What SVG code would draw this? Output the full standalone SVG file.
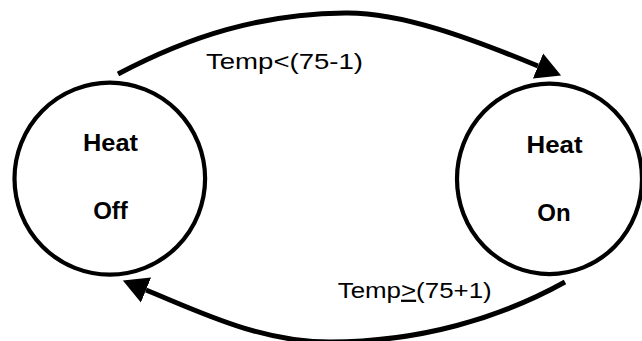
<svg xmlns="http://www.w3.org/2000/svg" width="642" height="341" viewBox="0 0 642 341">
  <style>
    .state { fill: #ffffff; stroke: #000000; stroke-width: 4.2; }
    .name { font-family: "Liberation Sans", Arial, sans-serif; font-weight: bold; font-size: 24px; fill: #000000; text-anchor: middle; }
    .edge { fill: none; stroke: #000000; stroke-width: 5; }
    .cond { font-family: "Liberation Sans", Arial, sans-serif; font-size: 22.5px; fill: #000000; }
  </style>
  <defs>
    <marker id="arrow" markerUnits="userSpaceOnUse" markerWidth="26" markerHeight="28" refX="0" refY="13.5" orient="auto" viewBox="0 0 26 27">
      <path d="M0,0 L25,13.5 L0,27 Z" fill="#000000"/>
    </marker>
  </defs>
  <rect width="642" height="341" fill="#ffffff"/>
  <g id="heat-off">
    <ellipse class="state" cx="109.8" cy="178.6" rx="95.3" ry="96"/>
    <text class="name" x="110.5" y="151" textLength="55" lengthAdjust="spacingAndGlyphs">Heat</text>
    <text class="name" x="110.5" y="218.5">Off</text>
  </g>
  <g id="heat-on">
    <ellipse class="state" cx="549.5" cy="178.9" rx="92.5" ry="95.2"/>
    <text class="name" x="554.5" y="153" textLength="56" lengthAdjust="spacingAndGlyphs">Heat</text>
    <text class="name" x="554" y="221">On</text>
  </g>
  <g id="connectors">
    <path class="edge" d="M118,74 C190,36 260,14 345,13 C400,12 470,38 538,66" marker-end="url(#arrow)"/>
    <text class="cond" x="206" y="69.3" textLength="157" lengthAdjust="spacingAndGlyphs">Temp&lt;(75-1)</text>
    <path class="edge" d="M565,282 C500,318 420,342 330,342 C260,342 200,312 146,290" marker-end="url(#arrow)"/>
    <text class="cond" x="337.7" y="297.7" textLength="154" lengthAdjust="spacingAndGlyphs">Temp<tspan text-decoration="underline">&gt;</tspan>(75+1)</text>
  </g>
</svg>
